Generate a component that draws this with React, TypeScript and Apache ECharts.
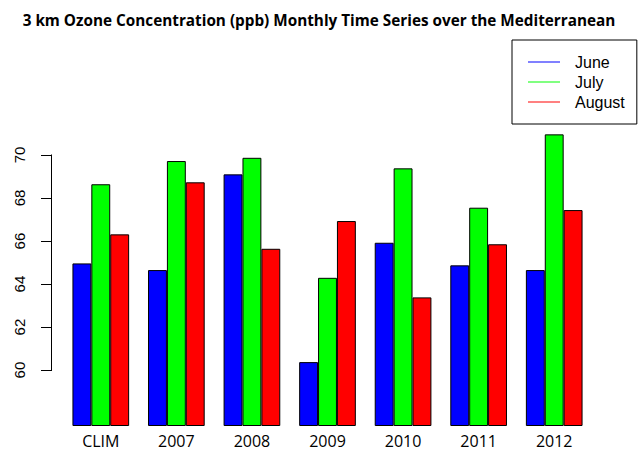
import React, { useEffect, useRef } from "react";
import * as echarts from "echarts";

const categories = ["CLIM", "2007", "2008", "2009", "2010", "2011", "2012"];
const juneValues = [64.96, 64.65, 69.1, 60.37, 65.92, 64.87, 64.65];
const julyValues = [68.64, 69.72, 69.87, 64.29, 69.38, 67.55, 70.96];
const augustValues = [66.31, 68.73, 65.64, 66.93, 63.38, 65.85, 67.44];
const yTickValues = [60, 62, 64, 66, 68, 70];
const seriesNames = ["June", "July", "August"];
const seriesColors = ["#0000ff", "#00ff00", "#ff0000"];

const TITLE = "3 km Ozone Concentration (ppb) Monthly Time Series over the Mediterranean";

export default function App() {
  const ref = useRef<HTMLDivElement>(null);
  useEffect(() => {
    document.body.style.margin = "0";
    if (!ref.current) return;
    const chart = echarts.init(ref.current, null, { renderer: "svg" });
    const data = [juneValues, julyValues, augustValues];
    const gridLeft = 63;
    const axisOffset = 11;
    chart.setOption({
      animation: false,
      backgroundColor: "#ffffff",
      title: {
        text: TITLE,
        left: "center",
        top: 7,
        textStyle: {
          fontFamily: "Open Sans",
          fontWeight: "bold",
          fontSize: 15.3,
          color: "#000",
        },
      },
      legend: {
        orient: "vertical",
        left: 512,
        top: 40,
        padding: [12, 12, 12, 16],
        itemGap: 0,
        itemWidth: 32,
        itemHeight: 1,
        icon: "rect",
        borderColor: "#000",
        borderWidth: 1,
        itemStyle: { borderWidth: 0 },
        textStyle: {
          fontFamily: "Liberation Sans",
          fontSize: 16,
          lineHeight: 20,
          color: "#000",
          padding: [0, 0, 0, 10],
        },
        data: seriesNames,
      },
      grid: { left: gridLeft, right: 46, top: 112, bottom: 26 },
      xAxis: {
        type: "category",
        data: categories,
        axisLine: { show: false },
        axisTick: { show: false },
        axisLabel: {
          fontFamily: "Open Sans",
          fontSize: 16,
          color: "#000",
          margin: 7,
        },
      },
      yAxis: {
        type: "value",
        min: 57.4,
        max: 72,
        startValue: 57.4,
        offset: axisOffset,
        axisLine: { show: false },
        splitLine: { show: false },
        axisTick: {
          show: true,
          length: 11,
          customValues: yTickValues,
          lineStyle: { color: "#000" },
        },
        axisLabel: { show: false },
      },
      series: seriesNames.map((name, i) => ({
        name,
        type: "bar",
        data: data[i],
        barGap: "0%",
        barCategoryGap: "25%",
        itemStyle: { color: seriesColors[i], borderColor: "#000", borderWidth: 1 },
      })),
    });
    const toY = (v: number) => chart.convertToPixel({ yAxisIndex: 0 }, v) as number;
    const y60 = toY(yTickValues[0]);
    const y70 = toY(yTickValues[yTickValues.length - 1]);
    const ax = gridLeft - axisOffset;
    chart.setOption({
      graphic: [
        {
          type: "rect",
          z: 100,
          shape: { x: ax - 1, y: y70 - 0.5, width: 1, height: y60 - y70 + 1 },
          style: { fill: "#000" },
        },
        ...yTickValues.map((v) => ({
          type: "text",
          x: ax - 25,
          y: toY(v),
          rotation: Math.PI / 2,
          style: {
            text: String(v),
            fontFamily: "Liberation Sans",
            fontSize: 15,
            fill: "#000",
            align: "center",
            verticalAlign: "bottom",
          },
        })),
      ],
    });
    return () => chart.dispose();
  }, []);
  return (
    <div
      ref={ref}
      style={{ position: "fixed", left: 0, top: 0, width: 638, height: 452 }}
    />
  );
}
